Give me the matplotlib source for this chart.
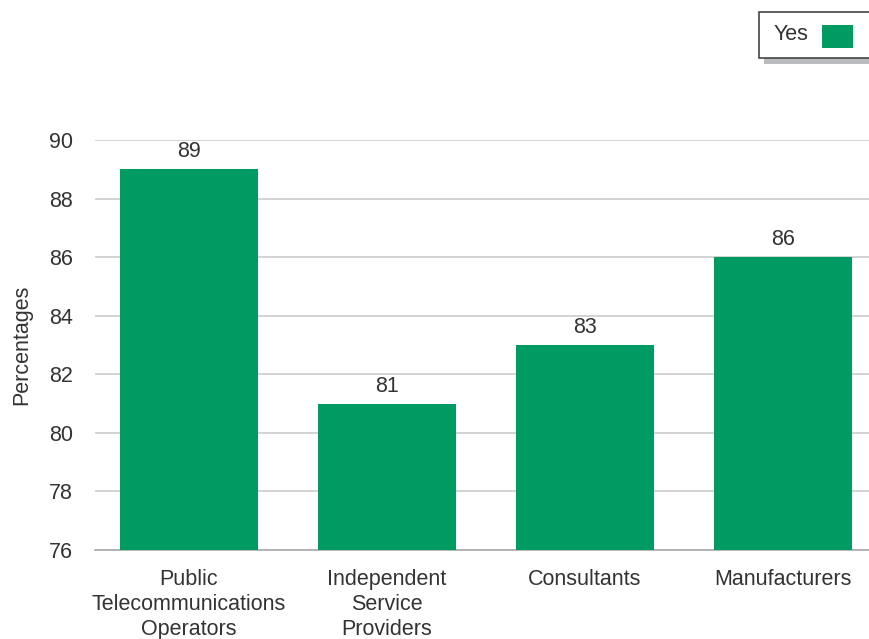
import matplotlib
matplotlib.use("Agg")
import matplotlib.pyplot as plt
from matplotlib.patches import Rectangle

plt.rcParams['font.family'] = ['Liberation Sans', 'DejaVu Sans']

categories = ['Public\nTelecommunications\nOperators',
              'Independent\nService\nProviders',
              'Consultants',
              'Manufacturers']
yes_values = [89, 81, 83, 86]
y_ticks = [76, 78, 80, 82, 84, 86, 88, 90]
series_name = 'Yes'

GREEN = '#009a63'
TEXT = '#333333'
FS = 15.5
W, H = 869, 639


def fx(px):
    return px / W


def fy(py):
    return 1 - py / H


fig = plt.figure(figsize=(8.69, 6.39), dpi=100)
ax = fig.add_axes([fx(95), fy(550), fx(869 - 95), (550 - 140) / H])

x = list(range(len(categories)))
bars = ax.bar(x, yes_values, width=0.697, color=GREEN, zorder=3)
for b, v in zip(bars, yes_values):
    ax.annotate(f'{v}', (b.get_x() + b.get_width() / 2, v),
                xytext=(0, 5), textcoords='offset points',
                ha='center', va='bottom', fontsize=FS, color=TEXT)

ax.set_xlim(-0.4747, 3.434)
ax.set_ylim(76, 90)
ax.set_yticks(y_ticks)
ax.set_xticks(x)
ax.set_xticklabels(categories, fontsize=FS, color=TEXT, linespacing=1.24)
ax.tick_params(axis='y', labelsize=FS, labelcolor=TEXT, length=0, pad=16)
ax.tick_params(axis='x', length=0, pad=14)
ax.grid(axis='y', color='#cccccc', linewidth=1.2, zorder=0)
for s in ['top', 'right', 'left']:
    ax.spines[s].set_visible(False)
ax.spines['bottom'].set_color('#aaaaaa')
ax.spines['bottom'].set_linewidth(1.2)
ax.set_ylabel('Percentages', fontsize=FS, color=TEXT, labelpad=12)

# legend box with drop shadow, top right
fig.patches.append(Rectangle((fx(764), fy(64)), fx(120), 6 / H,
                             transform=fig.transFigure, facecolor='#bbbcc0',
                             edgecolor='none'))
fig.patches.append(Rectangle((fx(759), fy(58)), fx(120), 46 / H,
                             transform=fig.transFigure, facecolor='white',
                             edgecolor='#444444', linewidth=1.2))
fig.text(fx(791), fy(35), series_name, fontsize=FS, color=TEXT,
         ha='center', va='center')
fig.patches.append(Rectangle((fx(822), fy(48)), fx(31), 23 / H,
                             transform=fig.transFigure, facecolor=GREEN,
                             edgecolor='none'))

fig.savefig('out.png', dpi=100, facecolor='white')
